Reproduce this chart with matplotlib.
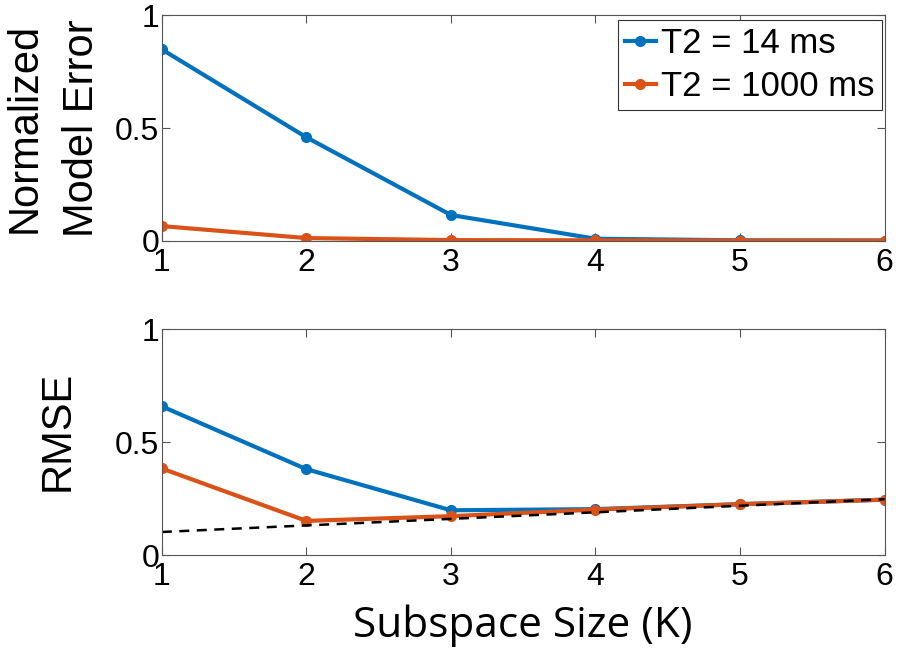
import numpy as np
import matplotlib.pyplot as plt

plt.rcParams['font.family'] = ['Liberation Sans', 'DejaVu Sans']

# subspace sizes
k = [1, 2, 3, 4, 5, 6]

# normalized model error
err_t2_14 = [0.848, 0.459, 0.115, 0.010, 0.003, 0.002]
err_t2_1000 = [0.066, 0.013, 0.004, 0.003, 0.002, 0.002]

# rmse
rmse_t2_14 = [0.659, 0.381, 0.199, 0.204, 0.226, 0.246]
rmse_t2_1000 = [0.384, 0.152, 0.173, 0.202, 0.226, 0.246]

# reference trend line (dashed)
ref_k = [1, 6]
ref_rmse = [0.103, 0.248]

blue = '#0072BD'
orange = '#D95319'

fig = plt.figure(figsize=(8.99, 6.54), dpi=100)
ax1 = fig.add_axes([0.18, 0.6315, 0.804, 0.3455])
ax2 = fig.add_axes([0.18, 0.151, 0.804, 0.3455])

ax1.plot(k, err_t2_14, '-o', color=blue, lw=3, ms=7, label='T2 = 14 ms')
ax1.plot(k, err_t2_1000, '-o', color=orange, lw=3, ms=7, label='T2 = 1000 ms')

ax2.plot(k, rmse_t2_14, '-o', color=blue, lw=3, ms=7)
ax2.plot(k, rmse_t2_1000, '-o', color=orange, lw=3, ms=7)
ax2.plot(ref_k, ref_rmse, '--', color='black', lw=1.8, dashes=(4, 3))

for ax in (ax1, ax2):
    ax.set_xlim(1, 6)
    ax.set_ylim(0, 1)
    ax.set_xticks(k)
    ax.set_yticks([0, 0.5, 1])
    ax.set_yticklabels(['0', '0.5', '1'])
    ax.tick_params(direction='in', top=True, right=True, length=6,
                   width=0.8, color='#555555', labelsize=23)
    ax.tick_params(axis='x', pad=5)
    ax.tick_params(axis='y', pad=2)
    for s in ax.spines.values():
        s.set_color('#555555')
        s.set_linewidth(0.8)

ax1.set_ylabel('Normalized\nModel Error', fontsize=30, linespacing=1.55)
ax1.yaxis.set_label_coords(-0.083, 0.5)
ax2.set_ylabel('RMSE', fontsize=30)
ax2.yaxis.set_label_coords(-0.117, 0.55)
ax2.set_xlabel('Subspace Size (K)', fontsize=30.5, family=['Open Sans', 'DejaVu Sans'],
               labelpad=9)

leg = ax1.legend(loc='upper right', fontsize=25, handlelength=0.9, handletextpad=0.15,
                 borderpad=0.2, labelspacing=0.28, fancybox=False,
                 bbox_to_anchor=(0.996, 0.978), borderaxespad=0, framealpha=1)
leg.get_frame().set_edgecolor('#333333')
leg.get_frame().set_linewidth(0.8)

fig.savefig('out.png', dpi=100)
